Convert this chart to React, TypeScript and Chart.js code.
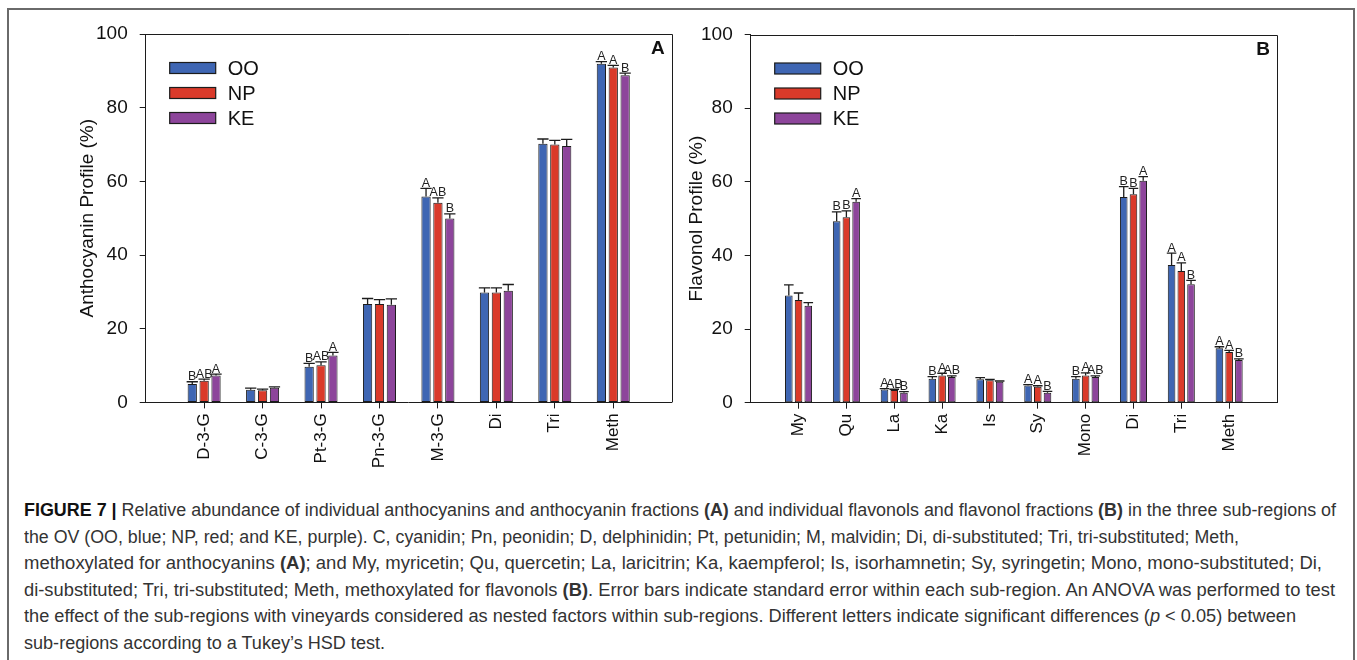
import React, { useEffect, useLayoutEffect, useRef } from 'react';
import { Chart, registerables } from 'chart.js';

Chart.register(...registerables);

// ---------- data ----------
const seriesNames = ['OO', 'NP', 'KE'];
const seriesColors = ['#3F66B3', '#DA3A2A', '#8D459B'];

const catsA = ['D-3-G', 'C-3-G', 'Pt-3-G', 'Pn-3-G', 'M-3-G', 'Di', 'Tri', 'Meth'];
const ooA = [5.0, 3.4, 9.7, 26.7, 55.9, 29.8, 70.2, 91.9];
const npA = [5.9, 3.3, 10.1, 26.7, 54.2, 29.8, 70.0, 90.9];
const keA = [7.3, 4.0, 12.7, 26.5, 49.9, 30.3, 69.6, 88.8];
const ooSeA = [0.6, 0.5, 0.9, 1.5, 2.2, 1.3, 1.3, 0.6];
const npSeA = [0.4, 0.3, 0.9, 1.2, 1.3, 1.3, 1.1, 0.6];
const keSeA = [0.4, 0.2, 0.9, 1.6, 1.3, 1.7, 1.8, 0.6];
const ooLetA = ['B', '', 'B', '', 'A', '', '', 'A'];
const npLetA = ['AB', '', 'AB', '', 'AB', '', '', 'A'];
const keLetA = ['A', '', 'A', '', 'B', '', '', 'B'];

const catsB = ['My', 'Qu', 'La', 'Ka', 'Is', 'Sy', 'Mono', 'Di', 'Tri', 'Meth'];
const ooB = [29.1, 49.3, 3.6, 6.5, 6.4, 4.7, 6.5, 55.9, 37.4, 14.8];
const npB = [27.9, 50.4, 3.45, 7.4, 6.1, 4.3, 7.4, 56.6, 35.8, 13.8];
const keB = [26.3, 54.6, 2.7, 7.0, 5.7, 2.7, 7.0, 60.3, 32.2, 11.6];
const ooSeB = [2.9, 2.5, 0.2, 0.6, 0.4, 0.2, 0.6, 2.8, 3.2, 0.4];
const npSeB = [1.9, 1.7, 0.2, 0.6, 0.2, 0.3, 0.7, 1.6, 2.2, 0.4];
const keSeB = [0.9, 0.8, 0.3, 0.3, 0.2, 0.4, 0.3, 1.1, 1.0, 0.3];
const ooLetB = ['', 'B', 'A', 'B', '', 'A', 'B', 'B', 'A', 'A'];
const npLetB = ['', 'B', 'AB', 'A', '', 'A', 'A', 'B', 'A', 'A'];
const keLetB = ['', 'A', 'B', 'AB', '', 'B', 'AB', 'A', 'B', 'B'];

const yTicksMin = 0;
const yTicksMax = 100;
const yTickStep = 20;

const FONT = '"Liberation Sans", Arial, Helvetica, sans-serif';
const INK = '#1c1c1c';

// ---------- plugin: frame, error bars, letters, legend, panel tag ----------
const decoPlugin = {
  id: 'deco',
  afterDatasetsDraw(chart: any, _args: any, opts: any) {
    const ctx = chart.ctx;
    const y = chart.scales.y;
    const ca = chart.chartArea;
    ctx.save();
    // error bars + letters
    chart.data.datasets.forEach((ds: any, di: number) => {
      const meta = chart.getDatasetMeta(di);
      meta.data.forEach((el: any, i: number) => {
        const v = ds.data[i].y;
        const se = ds.se[i];
        const x = el.x;
        const yTop = y.getPixelForValue(v);
        const yErr = y.getPixelForValue(v + se);
        const half = el.width / 2 + 1;
        ctx.strokeStyle = INK;
        ctx.lineWidth = 1.3;
        ctx.beginPath();
        ctx.moveTo(x, yTop);
        ctx.lineTo(x, yErr);
        ctx.moveTo(x - half, yErr);
        ctx.lineTo(x + half, yErr);
        ctx.stroke();
        const let_ = ds.letters[i];
        if (let_) {
          ctx.fillStyle = '#222';
          ctx.font = `12.5px ${FONT}`;
          ctx.textAlign = 'center';
          ctx.textBaseline = 'alphabetic';
          ctx.fillText(let_, x, yErr - 1.5);
        }
      });
    });
    // frame top & right
    ctx.strokeStyle = INK;
    ctx.lineWidth = 1;
    ctx.beginPath();
    const t = Math.round(ca.top) + 0.5;
    const r = Math.round(ca.right) + 0.5;
    ctx.moveTo(ca.left, t);
    ctx.lineTo(r, t);
    ctx.lineTo(r, ca.bottom);
    ctx.stroke();
    // legend
    chart.data.datasets.forEach((ds: any, di: number) => {
      const bx = ca.left + 24;
      const cy = ca.top + 34 + di * 25;
      ctx.fillStyle = ds.backgroundColor;
      ctx.fillRect(bx, cy - 5.5, 46, 11);
      ctx.strokeStyle = INK;
      ctx.lineWidth = 1.2;
      ctx.strokeRect(bx, cy - 5.5, 46, 11);
      ctx.fillStyle = '#111';
      ctx.font = `20px ${FONT}`;
      ctx.textAlign = 'left';
      ctx.textBaseline = 'middle';
      ctx.fillText(ds.label, bx + 58, cy + 1);
    });
    // panel tag
    ctx.fillStyle = '#111';
    ctx.font = `bold 19px ${FONT}`;
    ctx.textAlign = 'right';
    ctx.textBaseline = 'alphabetic';
    ctx.fillText(opts.tag, ca.right - 7, ca.top + 20);
    ctx.restore();
  },
};

function buildChart(
  canvas: HTMLCanvasElement,
  cats: string[],
  vals: number[][],
  ses: number[][],
  lets: string[][],
  yTitle: string,
  tag: string,
  pad: { left: number; right: number; top: number },
  yWidth: number,
  xHeight: number
) {
  const gridCommon = {
    display: true,
    drawOnChartArea: false,
    drawTicks: true,
    tickLength: 6,
    color: INK,
    lineWidth: 1,
    offset: false,
  };
  return new Chart(canvas, {
    type: 'bar',
    data: {
      datasets: vals.map((arr, si) => ({
        label: seriesNames[si],
        data: arr.map((v, i) => ({ x: i, y: v })),
        se: ses[si],
        letters: lets[si],
        backgroundColor: seriesColors[si],
        borderColor: INK,
        borderWidth: 1,
        borderSkipped: false,
        categoryPercentage: 0.61,
        barPercentage: 0.78,
      })) as any,
    },
    options: {
      animation: false,
      responsive: false,
      maintainAspectRatio: false,
      events: [],
      layout: { padding: { left: pad.left, right: pad.right, top: pad.top, bottom: 0 } },
      plugins: {
        legend: { display: false },
        tooltip: { enabled: false },
        deco: { tag },
      } as any,
      scales: {
        x: {
          type: 'linear',
          min: -1,
          max: cats.length,
          offset: false,
          grid: gridCommon,
          border: { display: true, color: INK, width: 1 },
          ticks: {
            autoSkip: false,
            minRotation: 90,
            maxRotation: 90,
            padding: 5,
            color: '#111',
            font: { size: 17, family: FONT },
            callback: (v: any) => (cats[v] !== undefined ? cats[v] : ''),
          },
          afterBuildTicks: (s: any) => {
            s.ticks = cats.map((_, i) => ({ value: i }));
          },
          afterFit: (s: any) => {
            s.height = xHeight;
          },
        },
        y: {
          min: yTicksMin,
          max: yTicksMax,
          grid: gridCommon,
          border: { display: true, color: INK, width: 1 },
          ticks: {
            stepSize: yTickStep,
            padding: 12,
            color: '#111',
            font: { size: 19, family: FONT },
          },
          title: {
            display: true,
            text: yTitle,
            color: '#111',
            font: { size: 19, family: FONT },
            padding: { top: 4, bottom: 4 },
          },
          afterFit: (s: any) => {
            s.width = yWidth;
          },
        },
      } as any,
    },
    plugins: [decoPlugin as any],
  });
}

const captionTargets = [1312, 1215, 1298, 1311, 1272, 361];

function Caption() {
  const refs = useRef<(HTMLDivElement | null)[]>([]);
  useLayoutEffect(() => {
    const fit = () => {
      refs.current.forEach((el, i) => {
        if (!el) return;
        el.style.transform = 'none';
        const w = el.getBoundingClientRect().width;
        if (w > 0) el.style.transform = `scaleX(${captionTargets[i] / w})`;
      });
    };
    fit();
    if ((document as any).fonts && (document as any).fonts.ready) {
      (document as any).fonts.ready.then(fit);
    }
  }, []);
  const lines: React.ReactNode[] = [
    <>
      <b style={{ color: '#111' }}>FIGURE 7 |</b> Relative abundance of individual anthocyanins and anthocyanin fractions <b>(A)</b> and individual flavonols and flavonol fractions <b>(B)</b> in the three sub-regions of
    </>,
    <>the OV (OO, blue; NP, red; and KE, purple). C, cyanidin; Pn, peonidin; D, delphinidin; Pt, petunidin; M, malvidin; Di, di-substituted; Tri, tri-substituted; Meth,</>,
    <>
      methoxylated for anthocyanins <b>(A)</b>; and My, myricetin; Qu, quercetin; La, laricitrin; Ka, kaempferol; Is, isorhamnetin; Sy, syringetin; Mono, mono-substituted; Di,
    </>,
    <>
      di-substituted; Tri, tri-substituted; Meth, methoxylated for flavonols <b>(B)</b>. Error bars indicate standard error within each sub-region. An ANOVA was performed to test
    </>,
    <>
      the effect of the sub-regions with vineyards considered as nested factors within sub-regions. Different letters indicate significant differences (<i>p</i> &lt; 0.05) between
    </>,
    <>sub-regions according to a Tukey’s HSD test.</>,
  ];
  return (
    <>
      {lines.map((ln, i) => (
        <div
          key={i}
          ref={(el) => {
            refs.current[i] = el;
          }}
          style={{
            position: 'absolute',
            left: 24,
            top: 510 + i * 26.6 - 13,
            height: 26,
            lineHeight: '26px',
            whiteSpace: 'nowrap',
            fontFamily: '"Liberation Sans Narrow", "Liberation Sans", Arial, sans-serif',
            fontSize: 17.5,
            color: '#333',
            transformOrigin: 'left center',
            display: 'inline-block',
          }}
        >
          {ln}
        </div>
      ))}
    </>
  );
}

export default function App() {
  const refA = useRef<HTMLCanvasElement>(null);
  const refB = useRef<HTMLCanvasElement>(null);
  useEffect(() => {
    document.body.style.overflow = 'hidden';
    const a = buildChart(
      refA.current!,
      catsA,
      [ooA, npA, keA],
      [ooSeA, npSeA, keSeA],
      [ooLetA, npLetA, keLetA],
      'Anthocyanin Profile (%)',
      'A',
      { left: 72.6, right: 18.3, top: 34 },
      73.1,
      77.6
    );
    const b = buildChart(
      refB.current!,
      catsB,
      [ooB, npB, keB],
      [ooSeB, npSeB, keSeB],
      [ooLetB, npLetB, keLetB],
      'Flavonol Profile (%)',
      'B',
      { left: 21.6, right: 80, top: 34.5 },
      69.1,
      77.3
    );
    return () => {
      a.destroy();
      b.destroy();
    };
  }, []);
  return (
    <div style={{ position: 'absolute', left: 0, top: 0, width: 1357, height: 660, overflow: 'hidden', background: '#fff' }}>
      <div
        style={{
          position: 'absolute',
          left: 7,
          top: 8,
          width: 1344,
          height: 660,
          borderTop: '2px solid #6a6a6a',
          borderLeft: '2px solid #6a6a6a',
          borderRight: '2px solid #6a6a6a',
        }}
      />
      <canvas ref={refA} width={690} height={480} style={{ position: 'absolute', left: 0, top: 0, width: 690, height: 480 }} />
      <canvas ref={refB} width={697} height={480} style={{ position: 'absolute', left: 660, top: 0, width: 697, height: 480 }} />
      <Caption />
    </div>
  );
}
